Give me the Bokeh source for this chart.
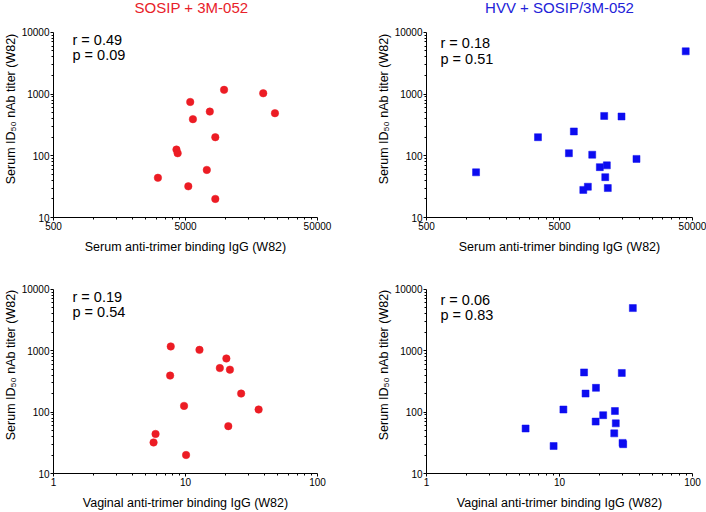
import math
from bokeh.plotting import figure
from bokeh.layouts import column, row
from bokeh.models import FixedTicker, Label, Range1d
from bokeh.embed import file_html
from bokeh.resources import INLINE

# ---------------- data ----------------
# SOSIP + 3M-052 group (13 animals)
sosip_nab = [1170, 1030, 745, 520, 490, 392, 200, 126, 110, 59, 44, 32, 20]
sosip_serum_igg = [9800, 19400, 5430, 7640, 23800, 5690, 8410, 4270, 4360, 7250, 3090, 5250, 8410]
sosip_vaginal_igg = [7.73, 12.76, 20.4, 18.2, 21.7, 7.65, 26.4, 9.75, 35.8, 21.1, 5.93, 5.73, 10.1]

# HVV + SOSIP/3M-052 group (15 animals)
hvv_nab = [4930, 442, 433, 248, 200, 110, 104, 89, 70, 65.5, 54, 45, 31.5, 30, 28]
hvv_serum_igg = [44460, 10840, 14630, 6410, 3445, 5885, 8810, 18960, 11350, 10050, 1179, 11040, 8170, 11540, 7550]
hvv_vaginal_igg = [35.6, 15.3, 29.4, 18.8, 15.7, 10.7, 26.1, 21.3, 18.7, 26.5, 5.56, 25.8, 29.8, 30.1, 9.03]

stats = {
    "sosip_serum": ("r = 0.49", "p = 0.09"),
    "hvv_serum": ("r = 0.18", "p = 0.51"),
    "sosip_vaginal": ("r = 0.19", "p = 0.54"),
    "hvv_vaginal": ("r = 0.06", "p = 0.83"),
}

titles = ["SOSIP + 3M-052", "HVV + SOSIP/3M-052"]
x_label_serum = "Serum anti-trimer binding IgG (W82)"
x_label_vaginal = "Vaginal anti-trimer binding IgG (W82)"
y_label = "Serum ID\u2085\u2080 nAb titer (W82)"

serum_ticks = [500, 5000, 50000]
serum_labels = {500: "500", 5000: "5000", 50000: "50000"}
vag_ticks = [1, 10, 100]
vag_labels = {1: "1", 10: "10", 100: "100"}
y_ticks = [10, 100, 1000, 10000]
y_labels = {10: "10", 100: "100", 1000: "1000", 10000: "10000"}

RED = "#ec1c24"
BLUE = "#0c0cf0"
TITLE_RED = "#e8212a"
TITLE_BLUE = "#2222d8"
FONT = "Liberation Sans"

AXIS_PX = 186  # pixel length of the y axis (3 decades)


def minors(majors):
    out = []
    for m in majors[:-1]:
        out += [m * k for k in range(2, 10)]
    return out


def make_fig(xvals, yvals, xticks, xlabels, xlabel, stat, color, marker,
             width, height, left, right, top, bottom, title=None,
             title_color=None, title_dx=0, txt_dx=19, txt_dy=0, line_gap=14.5):
    # the frame reaches the top of the canvas; the axis itself stops at 10000
    frame_h = height - bottom
    decades = math.log10(y_ticks[-1] / y_ticks[0])
    y_end = y_ticks[0] * 10 ** (decades * frame_h / AXIS_PX)
    p = figure(x_axis_type="log", y_axis_type="log",
               x_range=Range1d(xticks[0], xticks[-1]),
               y_range=Range1d(y_ticks[0], y_end),
               width=width, height=height,
               min_border_left=left, min_border_right=right,
               min_border_top=0, min_border_bottom=bottom,
               output_backend="svg", toolbar_location=None,
               background_fill_color="white", border_fill_color="white")
    p.outline_line_color = None
    p.grid.visible = False
    p.xaxis.ticker = FixedTicker(ticks=xticks, minor_ticks=minors(xticks))
    p.xaxis.major_label_overrides = xlabels
    p.yaxis.ticker = FixedTicker(ticks=y_ticks, minor_ticks=minors(y_ticks))
    p.yaxis.major_label_overrides = y_labels
    p.yaxis.bounds = (y_ticks[0], y_ticks[-1])
    p.xaxis.axis_label = xlabel
    p.yaxis.axis_label = y_label
    for ax in (p.xaxis[0], p.yaxis[0]):
        ax.axis_line_color = "black"
        ax.axis_line_width = 1
        ax.major_tick_line_color = "black"
        ax.minor_tick_line_color = "black"
        ax.major_tick_out = 3
        ax.major_tick_in = 0
        ax.minor_tick_out = 2
        ax.minor_tick_in = 0
        ax.major_label_text_font = FONT
        ax.major_label_text_font_size = "10px"
        ax.major_label_text_color = "black"
        ax.axis_label_text_font = FONT
        ax.axis_label_text_font_size = "12.5px"
        ax.axis_label_text_font_style = "normal"
        ax.axis_label_text_color = "black"
    p.xaxis.major_label_standoff = 1
    p.xaxis.axis_label_standoff = 7
    p.yaxis.major_label_standoff = 1
    p.yaxis.axis_label_standoff = 1
    if marker == "circle":
        p.scatter(xvals, yvals, marker="circle", size=7.5, fill_color=color,
                  line_color=color, line_width=0.5)
    else:
        p.scatter(xvals, yvals, marker="square", size=7, fill_color=color,
                  line_color=color, line_width=0.5)
    r_txt, p_txt = stat
    for i, t in enumerate((r_txt, p_txt)):
        p.add_layout(Label(x=xticks[0], y=y_ticks[-1], x_offset=txt_dx,
                           y_offset=txt_dy - line_gap * i, text=t,
                           text_baseline="top", text_align="left",
                           text_font=FONT, text_font_size="14.5px",
                           text_color="black"))
    if title:
        p.add_layout(Label(x=xticks[1], y=y_end, x_offset=title_dx,
                           y_offset=-7, text=title, text_baseline="alphabetic",
                           text_align="center", text_font=FONT,
                           text_font_size="15px", text_color=title_color))
    return p


p1 = make_fig(sosip_serum_igg, sosip_nab, serum_ticks, serum_labels, x_label_serum,
              stats["sosip_serum"], RED, "circle", 353, 256, 51, 36, 32, 38,
              title=titles[0], title_color=TITLE_RED, title_dx=6)
p2 = make_fig(hvv_serum_igg, hvv_nab, serum_ticks, serum_labels, x_label_serum,
              stats["hvv_serum"], BLUE, "square", 353, 256, 73, 14, 32, 38,
              title=titles[1], title_color=TITLE_BLUE, txt_dx=14, txt_dy=-3,
              line_gap=15.3)
p3 = make_fig(sosip_vaginal_igg, sosip_nab, vag_ticks, vag_labels, x_label_vaginal,
              stats["sosip_vaginal"], RED, "circle", 353, 256, 51, 36, 33, 37)
p4 = make_fig(hvv_vaginal_igg, hvv_nab, vag_ticks, vag_labels, x_label_vaginal,
              stats["hvv_vaginal"], BLUE, "square", 353, 256, 73, 14, 33, 37,
              txt_dx=14, txt_dy=-3, line_gap=15.3)

layout = column(row(p1, p2), row(p3, p4))

open("out.html", "w").write(file_html(layout, INLINE))
